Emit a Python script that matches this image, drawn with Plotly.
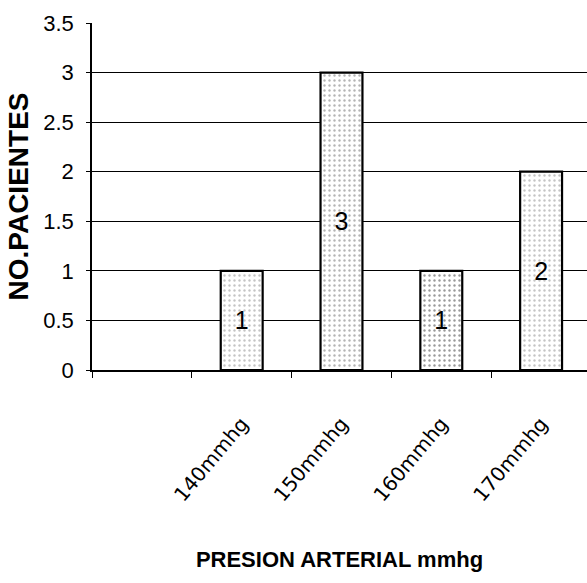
import plotly.graph_objects as go

categories = [" ", "140mmhg", "150mmhg", "160mmhg", "170mmhg"]
patients = [None, 1, 3, 1, 2]
bar_labels = ["", "1", "3", "1", "2"]
y_ticks = [0, 0.5, 1, 1.5, 2, 2.5, 3, 3.5]
y_tick_text = ["0", "0.5", "1", "1.5", "2", "2.5", "3", "3.5"]
speckle = ["#777777", "#8a8a8a", "#6a6a6a", "#333333", "#8a8a8a"]

fig = go.Figure()
fig.add_trace(go.Bar(
    x=categories,
    y=patients,
    width=0.42,
    text=bar_labels,
    textposition="inside",
    insidetextanchor="middle",
    textangle=0,
    textfont=dict(family="Liberation Sans, Arial, sans-serif", size=25, color="black"),
    marker=dict(
        color="white",
        line=dict(color="black", width=2.2),
        pattern=dict(shape=".", fgcolor=speckle, bgcolor="white", size=5, solidity=0.18),
    ),
    showlegend=False,
    hoverinfo="skip",
))

fig.update_layout(
    width=587,
    height=583,
    margin=dict(l=92, r=0, t=23, b=213),
    paper_bgcolor="white",
    plot_bgcolor="white",
    xaxis=dict(
        type="category",
        categoryorder="array",
        categoryarray=categories,
        range=[-0.5, 4.46],
        tickson="boundaries",
        ticks="outside",
        ticklen=6,
        tickcolor="black",
        tickwidth=1,
        tickangle=-50,
        ticklabelstandoff=32,
        tickfont=dict(family="DejaVu Sans, Verdana, sans-serif", size=20, color="black"),
        showline=True,
        linecolor="black",
        linewidth=2,
        showgrid=False,
        title=dict(
            text="PRESION ARTERIAL mmhg",
            font=dict(family="Liberation Sans, Arial, sans-serif", size=22, color="black", weight="bold"),
            standoff=46,
        ),
    ),
    yaxis=dict(
        range=[0, 3.5],
        tickvals=y_ticks,
        ticktext=y_tick_text,
        ticks="outside",
        ticklen=4,
        tickcolor="black",
        ticklabelstandoff=8,
        tickfont=dict(family="Liberation Sans, Arial, sans-serif", size=22, color="black"),
        showline=True,
        linecolor="black",
        linewidth=1.5,
        showgrid=True,
        gridcolor="black",
        gridwidth=1,
        zeroline=False,
        title=dict(
            text="NO.PACIENTES",
            font=dict(family="Liberation Sans, Arial, sans-serif", size=28, color="black", weight="bold"),
            standoff=6,
        ),
    ),
)

fig.write_html("out.html")
